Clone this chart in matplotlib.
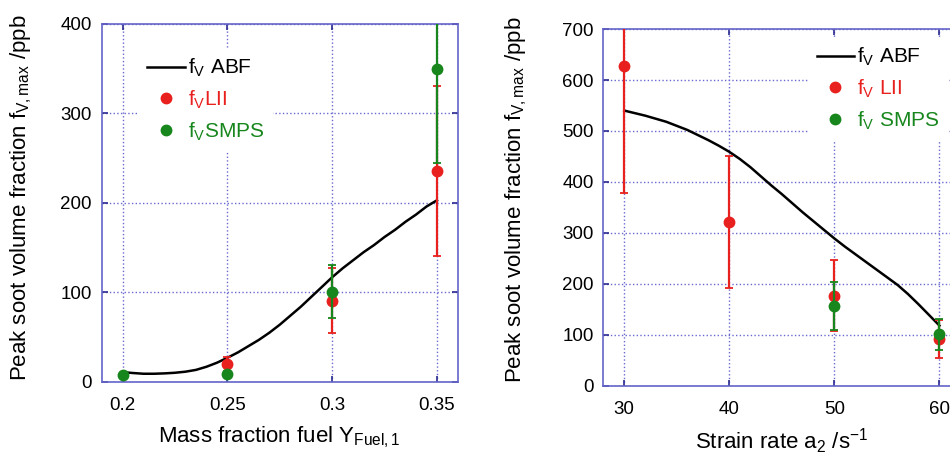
import matplotlib
matplotlib.use("Agg")
import matplotlib.pyplot as plt
from matplotlib.lines import Line2D

plt.rcParams['font.family'] = ['Liberation Sans', 'DejaVu Sans']
plt.rcParams['mathtext.fontset'] = 'custom'
plt.rcParams['mathtext.rm'] = 'Liberation Sans'
plt.rcParams['mathtext.it'] = 'Liberation Sans'
plt.rcParams['mathtext.bf'] = 'Liberation Sans:bold'

# ---------------- Left panel data ----------------
left_abf_x = [0.20, 0.205, 0.21, 0.215, 0.22, 0.225, 0.23, 0.235, 0.24, 0.245, 0.25,
              0.255, 0.26, 0.265, 0.27, 0.275, 0.28, 0.285, 0.29, 0.295,
              0.30, 0.305, 0.31, 0.315, 0.32, 0.325, 0.33, 0.335, 0.34, 0.345, 0.35]
left_abf_y = [11, 10, 9.2, 9.2, 9.6, 10.3, 11.5, 13.5, 17, 21.5, 27,
              33, 40, 47, 55, 64, 74, 84, 95, 106,
              117, 127, 136, 145, 153, 162, 170, 179, 187, 196, 203]
left_lii_x = [0.25, 0.30, 0.35]
left_lii_y = [20, 91, 236]
left_lii_err = [8, 36, 95]
left_smps_x = [0.20, 0.25, 0.30, 0.35]
left_smps_y = [8, 8.5, 101, 350]
left_smps_err = [0, 0, 30, 105]
left_xticks = [0.2, 0.25, 0.3, 0.35]
left_xticklabels = ['0.2', '0.25', '0.3', '0.35']
left_yticks = [0, 100, 200, 300, 400]

# ---------------- Right panel data ----------------
right_abf_x = [30, 31, 32, 33, 34, 35, 36, 37, 38, 39, 40, 41, 42, 43, 44, 45,
               46, 47, 48, 49, 50, 51, 52, 53, 54, 55, 56, 57, 58, 59, 60]
right_abf_y = [540, 535, 530, 524, 518, 510, 502, 492, 482, 471, 459, 445, 429, 411, 393, 376,
               358, 340, 323, 306, 289, 273, 258, 243, 228, 213, 198, 180, 160, 139, 118]
right_lii_x = [30, 40, 50, 60]
right_lii_y = [628, 321, 177, 91]
right_lii_err = [250, 129, 70, 37]
right_smps_x = [50, 60]
right_smps_y = [157, 101]
right_smps_err = [47, 30]
right_xticks = [30, 40, 50, 60]
right_yticks = [0, 100, 200, 300, 400, 500, 600, 700]

RED = '#e8201e'
GREEN = '#17861c'
FRAME = '#6464c8'
GRID = '#6a6ad2'

fig = plt.figure(figsize=(9.5, 4.59), dpi=100)
axL = fig.add_axes([0.107, 0.1678, 0.375, 0.780])
axR = fig.add_axes([0.635, 0.1597, 0.376, 0.777])


def style(ax):
    for s in ax.spines.values():
        s.set_color(FRAME)
        s.set_linewidth(1.2)
    ax.grid(True, color=GRID, linestyle=':', linewidth=1.0)
    ax.set_axisbelow(True)
    ax.tick_params(direction='in', length=4, width=1.2, color='#2a2a90',
                   top=True, right=True, labelsize=13.5, labelcolor='black')
    ax.tick_params(axis='x', pad=11)
    ax.tick_params(axis='y', pad=7)


def draw(ax, ax_x, ax_y, lx, ly, le, sx, sy, se):
    ax.plot(ax_x, ax_y, color='black', lw=1.8, zorder=3)
    ax.errorbar(lx, ly, yerr=le, fmt='o', color=RED, ms=7.5, elinewidth=1.6,
                capsize=3, capthick=1.3, zorder=4)
    ax.errorbar(sx, sy, yerr=se, fmt='o', color=GREEN, ms=7.5, elinewidth=1.6,
                capsize=3, capthick=1.3, zorder=5)


style(axL)
draw(axL, left_abf_x, left_abf_y, left_lii_x, left_lii_y, left_lii_err,
     left_smps_x, left_smps_y, left_smps_err)
axL.set_xlim(0.19, 0.36)
axL.set_ylim(0, 400)
axL.set_xticks(left_xticks)
axL.set_xticklabels(left_xticklabels)
axL.set_yticks(left_yticks)
axL.set_xlabel(r'Mass fraction fuel Y$_{\mathrm{Fuel,1}}$', fontsize=16)
axL.set_ylabel(r'Peak soot volume fraction f$_{\mathrm{V,max}}$ /ppb', fontsize=16)
axL.xaxis.set_label_coords(0.5, -0.12)
axL.yaxis.set_label_coords(-0.19, 0.515)

style(axR)
draw(axR, right_abf_x, right_abf_y, right_lii_x, right_lii_y, right_lii_err,
     right_smps_x, right_smps_y, right_smps_err)
axR.set_xlim(28, 62)
axR.set_ylim(0, 700)
axR.set_xticks(right_xticks)
axR.set_yticks(right_yticks)
axR.set_xlabel(r'Strain rate a$_2$ /s$^{-1}$', fontsize=16)
axR.set_ylabel(r'Peak soot volume fraction f$_{\mathrm{V,max}}$ /ppb', fontsize=16)
axR.xaxis.set_label_coords(0.5, -0.115)
axR.yaxis.set_label_coords(-0.208, 0.52)

left_labels = [r'f$_\mathrm{V}$ ABF', r'f$_\mathrm{V}$LII', r'f$_\mathrm{V}$SMPS']
right_labels = [r'f$_\mathrm{V}$ ABF', r'f$_\mathrm{V}$ LII', r'f$_\mathrm{V}$ SMPS']

for ax, anchor, labels in ((axL, (0.075, 0.96), left_labels),
                           (axR, (0.545, 1.005), right_labels)):
    handles = [Line2D([], [], color='black', lw=1.8),
               Line2D([], [], color=RED, marker='o', ms=7.5, ls='none'),
               Line2D([], [], color=GREEN, marker='o', ms=7.5, ls='none')]
    leg = ax.legend(handles, labels, loc='upper left', bbox_to_anchor=anchor,
                    frameon=True, facecolor='white', edgecolor='none', framealpha=1,
                    fontsize=15, handlelength=1.8, handletextpad=0.15,
                    labelspacing=0.45, borderpad=0.4, fancybox=False)
    leg.set_zorder(10)
    for t, c in zip(leg.get_texts(), ['black', RED, GREEN]):
        t.set_color(c)

fig.savefig('out.png', dpi=100)
